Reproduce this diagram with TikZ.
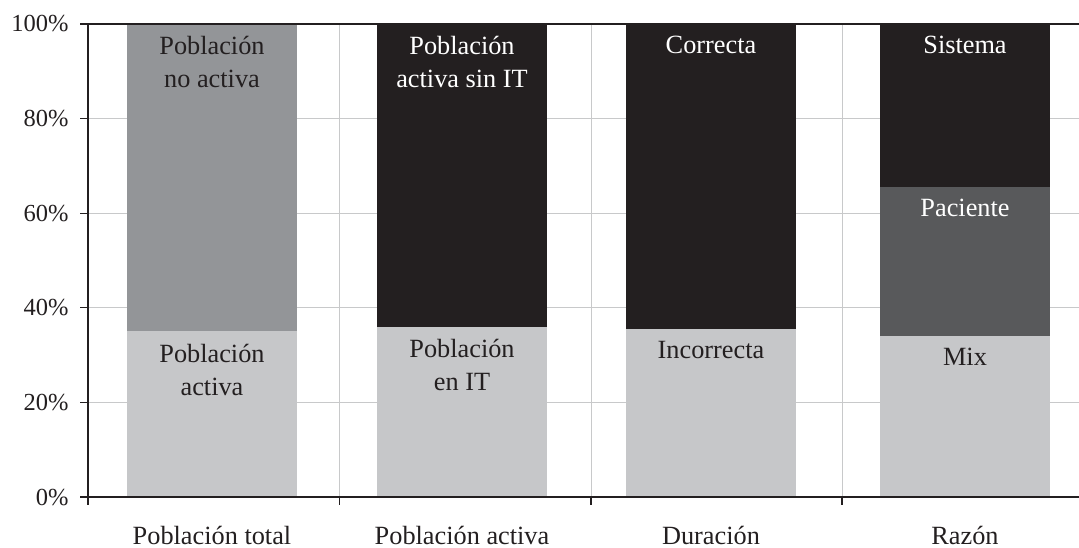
\documentclass[tikz,border=0pt]{standalone}
\usepackage{fontspec}
\setmainfont{Liberation Serif}
\definecolor{inkdark}{HTML}{231F20}
\definecolor{barlight}{HTML}{C6C7C9}
\definecolor{barmid}{HTML}{939598}
\definecolor{bardark}{HTML}{58595B}
\definecolor{barblack}{HTML}{231F20}
\definecolor{gridgray}{HTML}{C8C9CA}
\tikzset{
  gridline/.style={draw=gridgray, line width=0.5pt},
  axisline/.style={draw=inkdark, line width=0.65pt},
  seglabel/.style={anchor=north, inner sep=0pt, align=center,
    font=\fontsize{13.15}{16.5}\selectfont},
  darktext/.style={seglabel, text=inkdark},
  whitetext/.style={seglabel, text=white},
  ticklabel/.style={anchor=east, inner sep=0pt, text=inkdark,
    font=\fontsize{12.25}{15}\selectfont},
  catlabel/.style={anchor=base, inner sep=0pt, text=inkdark,
    font=\fontsize{13.15}{16.5}\selectfont}
}
\begin{document}
\begin{tikzpicture}[x=0.5pt,y=-0.5pt]
\useasboundingbox (0,0) rectangle (1079,547);
% grid
\draw[gridline] (88,402.4)-- (1079,402.4);
\draw[gridline] (88,307.8)-- (1079,307.8);
\draw[gridline] (88,213.2)-- (1079,213.2);
\draw[gridline] (88,118.6)-- (1079,118.6);
\draw[gridline] (339.5,24)-- (339.5,497);
\draw[gridline] (591,24)-- (591,497);
\draw[gridline] (842,24)-- (842,497);
% bars
\fill[barlight] (127,497) rectangle (297,331.45);
\fill[barmid] (127,331.45) rectangle (297,24);
\fill[barlight] (377,497) rectangle (547,326.7);
\fill[barblack] (377,326.7) rectangle (547,24);
\fill[barlight] (626,497) rectangle (796,329.1);
\fill[barblack] (626,329.1) rectangle (796,24);
\fill[barlight] (880,497) rectangle (1050,336.2);
\fill[bardark] (880,336.2) rectangle (1050,187.2);
\fill[barblack] (880,187.2) rectangle (1050,24);
% axes
\draw[axisline] (80,24)-- (1079,24);
\draw[axisline] (80,497)-- (1079,497);
\draw[axisline] (88,24)-- (88,505);
\draw[axisline] (80,402.4)-- (88,402.4);
\draw[axisline] (80,307.8)-- (88,307.8);
\draw[axisline] (80,213.2)-- (88,213.2);
\draw[axisline] (80,118.6)-- (88,118.6);
\draw[axisline] (339.5,497)-- (339.5,505);
\draw[axisline] (591,497)-- (591,505);
\draw[axisline] (842,497)-- (842,505);
% tick labels
\node[ticklabel] (p0) at (69,497) {0\%};
\node[ticklabel] (p20) at (69,402.4) {20\%};
\node[ticklabel] (p40) at (69,307.8) {40\%};
\node[ticklabel] (p60) at (69,213.2) {60\%};
\node[ticklabel] (p80) at (69,118.6) {80\%};
\node[ticklabel] (p100) at (69,24) {100\%};
% segment labels
\node[darktext] (noactiva) at (212,36) {Población\\no activa};
\node[darktext] (activa) at (212,344) {Población\\activa};
\node[whitetext] (sinit) at (462,36) {Población\\activa sin IT};
\node[darktext] (enit) at (462,339) {Población\\en IT};
\node[whitetext] (correcta) at (711,36) {Correcta};
\node[darktext] (incorrecta) at (711,341) {Incorrecta};
\node[whitetext] (sistema) at (965,36) {Sistema};
\node[whitetext] (paciente) at (965,199) {Paciente};
\node[darktext] (mix) at (965,348) {Mix};
% categories
\node[catlabel] (total) at (212,544) {Población total};
\node[catlabel] (pactiva) at (462,544) {Población activa};
\node[catlabel] (duracion) at (711,544) {Duración};
\node[catlabel] (razon) at (965,544) {Razón};
\end{tikzpicture}
\end{document}
